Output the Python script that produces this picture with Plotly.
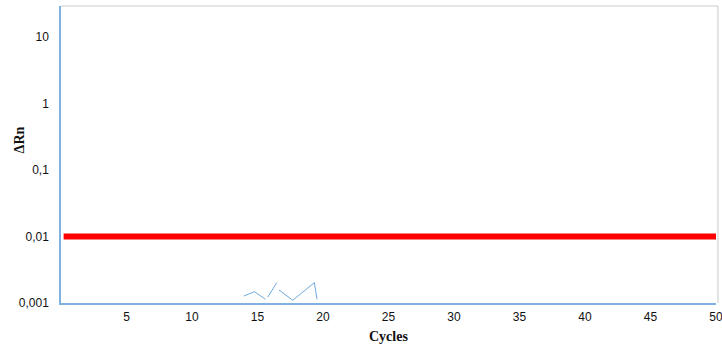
import plotly.graph_objects as go

# Data
cycles_noise = [13.95, 14.76, 15.6, None, 15.78, 16.47, None, 16.64, 17.69, 19.34, 19.54]
drn_noise = [0.00127, 0.00148, 0.00114, None, 0.00122, 0.00202, None, 0.00157, 0.0011, 0.00202, 0.00114]
threshold_x = [0.2, 50]
threshold_y = [0.01, 0.01]
x_ticks = [5, 10, 15, 20, 25, 30, 35, 40, 45, 50]
y_tickvals = [10, 1, 0.1, 0.01, 0.001]
y_ticktext = ["10", "1", "0,1", "0,01", "0,001"]

blue = "#7fb2e0"
fig = go.Figure()
fig.add_trace(go.Scatter(x=cycles_noise, y=drn_noise, mode="lines",
                         line=dict(color="#6fa8dc", width=1), connectgaps=False,
                         showlegend=False, hoverinfo="skip"))
fig.add_trace(go.Scatter(x=threshold_x, y=threshold_y, mode="lines",
                         line=dict(color="#ff0000", width=6),
                         showlegend=False, hoverinfo="skip"))

fig.update_layout(
    width=722, height=348,
    margin=dict(l=61, r=6, t=6, b=45),
    paper_bgcolor="white", plot_bgcolor="white",
    font=dict(family="Liberation Sans, Arial, sans-serif", size=12, color="#111"),
    xaxis=dict(range=[0, 50], tickvals=x_ticks, ticks="", showgrid=False,
               zeroline=False, showline=True, linecolor=blue, linewidth=1.5,
               ticklabelstandoff=2, ticklabeloverflow="allow", automargin=False),
    yaxis=dict(type="log", range=[-3, 1.466], tickvals=y_tickvals, ticktext=y_ticktext,
               ticks="", showgrid=False, zeroline=False, showline=True,
               linecolor=blue, linewidth=1.5, ticklabelstandoff=8, automargin=False),
    shapes=[
        dict(type="line", xref="paper", yref="paper", x0=0, x1=1.003, y0=1, y1=1,
             line=dict(color="#dcdcdc", width=1.5)),
        dict(type="line", xref="paper", yref="paper", x0=1.003, x1=1.003, y0=0, y1=1,
             line=dict(color="#dcdcdc", width=1.5)),
    ],
    annotations=[
        dict(text="<b>ΔRn</b>", xref="paper", yref="paper", x=-0.063, y=0.55,
             xanchor="center", yanchor="middle", textangle=-90, showarrow=False,
             font=dict(family="Liberation Serif, Times New Roman, serif", size=14, color="#111")),
        dict(text="<b>Cycles</b>", xref="paper", yref="paper", x=0.5, y=-0.08,
             xanchor="center", yanchor="top", showarrow=False,
             font=dict(family="Liberation Serif, Times New Roman, serif", size=14, color="#111")),
    ],
)

fig.write_html("out.html")
